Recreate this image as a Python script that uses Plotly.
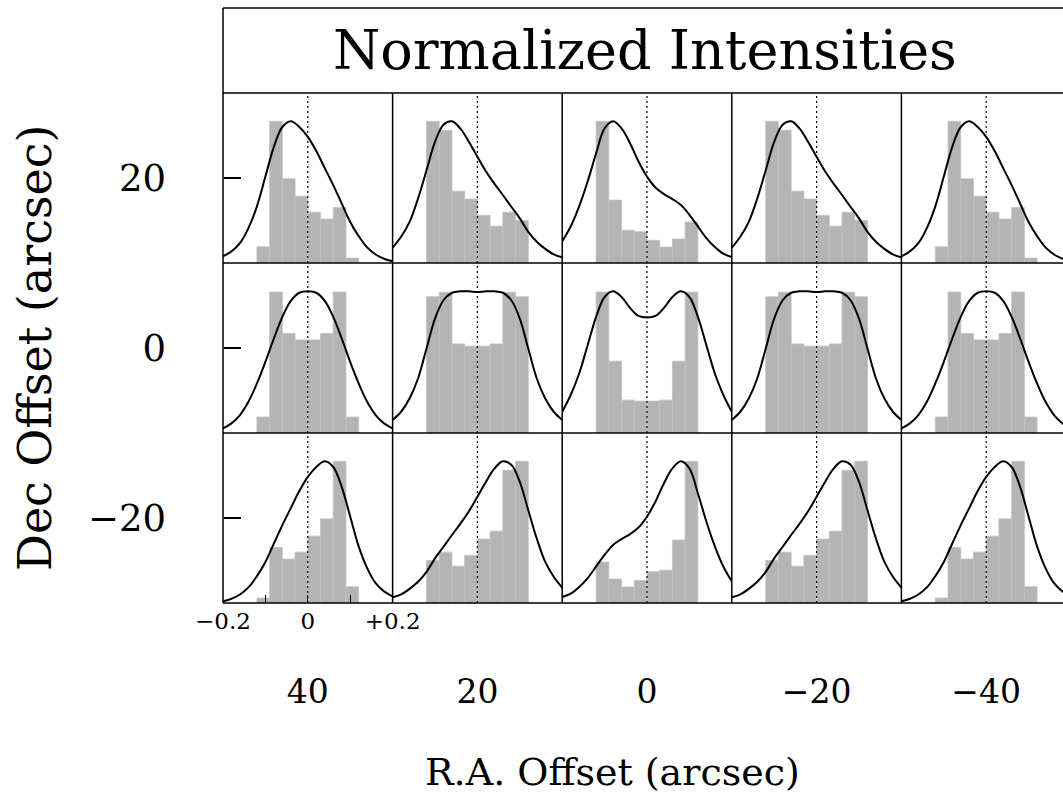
import plotly.graph_objects as go

# ---------------- data ----------------
BIN_CENTERS = [-0.105, -0.075, -0.045, -0.015, 0.015, 0.045, 0.075, 0.105]
BIN_WIDTH = 0.03
CURVE_X = [-0.20, -0.18, -0.16, -0.14, -0.12, -0.10, -0.08, -0.06, -0.04, -0.02, 0.00,
           0.02, 0.04, 0.06, 0.08, 0.10, 0.12, 0.14, 0.16, 0.18, 0.20]

RA_TICKS = [40, 20, 0, -20, -40]
DEC_TICKS = [20, 0, -20]
SMALL_TICKS = [-0.2, -0.1, 0.0, 0.1, 0.2]
SMALL_TICK_TEXT = ["\u22120.2", "", "0", "", "+0.2"]

# histograms (row 1 = Dec +20, row 2 = Dec 0, row 3 = Dec -20; columns RA 40 .. -40)
HIST_R1C1 = [0.115, 1.000, 0.594, 0.472, 0.359, 0.310, 0.392, 0.035]
HIST_R1C2 = [1.000, 0.937, 0.507, 0.451, 0.336, 0.260, 0.359, 0.300]
HIST_R1C3 = [1.000, 0.444, 0.232, 0.221, 0.160, 0.113, 0.169, 0.289]
HIST_R1C4 = [1.000, 0.937, 0.507, 0.451, 0.336, 0.260, 0.359, 0.300]
HIST_R1C5 = [0.115, 1.000, 0.594, 0.472, 0.359, 0.310, 0.392, 0.035]
HIST_R2C1 = [0.113, 0.995, 0.702, 0.657, 0.657, 0.702, 0.995, 0.113]
HIST_R2C2 = [0.962, 0.993, 0.629, 0.613, 0.613, 0.629, 0.993, 0.962]
HIST_R2C3 = [0.995, 0.507, 0.232, 0.225, 0.225, 0.232, 0.507, 0.995]
HIST_R2C4 = [0.962, 0.993, 0.629, 0.613, 0.613, 0.629, 0.993, 0.962]
HIST_R2C5 = [0.113, 0.995, 0.702, 0.657, 0.657, 0.702, 0.995, 0.113]
HIST_R3C1 = [0.035, 0.392, 0.310, 0.359, 0.472, 0.594, 1.000, 0.115]
HIST_R3C2 = [0.300, 0.359, 0.260, 0.336, 0.451, 0.507, 0.937, 1.000]
HIST_R3C3 = [0.289, 0.169, 0.113, 0.160, 0.221, 0.232, 0.444, 1.000]
HIST_R3C4 = [0.300, 0.359, 0.260, 0.336, 0.451, 0.507, 0.937, 1.000]
HIST_R3C5 = [0.035, 0.392, 0.310, 0.359, 0.472, 0.594, 1.000, 0.115]

# smooth profiles sampled at CURVE_X
CURVE_R1C1 = [0.047, 0.082, 0.140, 0.246, 0.400, 0.610, 0.820, 0.960, 1.000, 0.960, 0.890,
              0.790, 0.670, 0.550, 0.420, 0.290, 0.190, 0.110, 0.060, 0.030, 0.012]
CURVE_R1C2 = [0.108, 0.185, 0.290, 0.455, 0.655, 0.855, 0.976, 1.000, 0.948, 0.855, 0.750,
              0.648, 0.560, 0.480, 0.397, 0.315, 0.220, 0.150, 0.100, 0.061, 0.040]
CURVE_R1C3 = [0.153, 0.258, 0.400, 0.575, 0.775, 0.950, 1.000, 0.950, 0.845, 0.716, 0.610,
              0.533, 0.486, 0.451, 0.410, 0.340, 0.258, 0.176, 0.113, 0.066, 0.042]
CURVE_R1C4 = [0.108, 0.185, 0.290, 0.455, 0.655, 0.855, 0.976, 1.000, 0.948, 0.855, 0.750,
              0.648, 0.560, 0.480, 0.397, 0.315, 0.220, 0.150, 0.100, 0.061, 0.040]
CURVE_R1C5 = [0.047, 0.082, 0.140, 0.246, 0.400, 0.610, 0.820, 0.960, 1.000, 0.960, 0.890,
              0.790, 0.670, 0.550, 0.420, 0.290, 0.190, 0.110, 0.060, 0.030, 0.012]
CURVE_R2C1 = [0.033, 0.068, 0.127, 0.220, 0.350, 0.502, 0.667, 0.820, 0.932, 0.990, 1.000,
              0.990, 0.932, 0.820, 0.667, 0.502, 0.350, 0.220, 0.127, 0.068, 0.033]
CURVE_R2C2 = [0.092, 0.150, 0.244, 0.385, 0.596, 0.808, 0.937, 0.990, 1.000, 1.000, 0.995,
              1.000, 1.000, 0.990, 0.937, 0.808, 0.596, 0.385, 0.244, 0.150, 0.092]
CURVE_R2C3 = [0.150, 0.268, 0.420, 0.620, 0.820, 0.960, 1.000, 0.960, 0.883, 0.826, 0.815,
              0.826, 0.883, 0.960, 1.000, 0.960, 0.820, 0.620, 0.420, 0.268, 0.150]
CURVE_R2C4 = [0.092, 0.150, 0.244, 0.385, 0.596, 0.808, 0.937, 0.990, 1.000, 1.000, 0.995,
              1.000, 1.000, 0.990, 0.937, 0.808, 0.596, 0.385, 0.244, 0.150, 0.092]
CURVE_R2C5 = [0.033, 0.068, 0.127, 0.220, 0.350, 0.502, 0.667, 0.820, 0.932, 0.990, 1.000,
              0.990, 0.932, 0.820, 0.667, 0.502, 0.350, 0.220, 0.127, 0.068, 0.033]
CURVE_R3C1 = [0.012, 0.030, 0.060, 0.110, 0.190, 0.290, 0.420, 0.550, 0.670, 0.790, 0.890,
              0.960, 1.000, 0.960, 0.820, 0.610, 0.400, 0.246, 0.140, 0.082, 0.047]
CURVE_R3C2 = [0.040, 0.061, 0.100, 0.150, 0.220, 0.315, 0.397, 0.480, 0.560, 0.648, 0.750,
              0.855, 0.948, 1.000, 0.976, 0.855, 0.655, 0.455, 0.290, 0.185, 0.108]
CURVE_R3C3 = [0.042, 0.066, 0.113, 0.176, 0.258, 0.340, 0.410, 0.451, 0.486, 0.533, 0.610,
              0.716, 0.845, 0.950, 1.000, 0.950, 0.775, 0.575, 0.400, 0.258, 0.153]
CURVE_R3C4 = [0.040, 0.061, 0.100, 0.150, 0.220, 0.315, 0.397, 0.480, 0.560, 0.648, 0.750,
              0.855, 0.948, 1.000, 0.976, 0.855, 0.655, 0.455, 0.290, 0.185, 0.108]
CURVE_R3C5 = [0.012, 0.030, 0.060, 0.110, 0.190, 0.290, 0.420, 0.550, 0.670, 0.790, 0.890,
              0.960, 1.000, 0.960, 0.820, 0.610, 0.400, 0.246, 0.140, 0.082, 0.047]

HISTS = [[HIST_R1C1, HIST_R1C2, HIST_R1C3, HIST_R1C4, HIST_R1C5],
         [HIST_R2C1, HIST_R2C2, HIST_R2C3, HIST_R2C4, HIST_R2C5],
         [HIST_R3C1, HIST_R3C2, HIST_R3C3, HIST_R3C4, HIST_R3C5]]
CURVES = [[CURVE_R1C1, CURVE_R1C2, CURVE_R1C3, CURVE_R1C4, CURVE_R1C5],
          [CURVE_R2C1, CURVE_R2C2, CURVE_R2C3, CURVE_R2C4, CURVE_R2C5],
          [CURVE_R3C1, CURVE_R3C2, CURVE_R3C3, CURVE_R3C4, CURVE_R3C5]]

# ---------------- geometry / style ----------------
W, H = 1063, 801
GRID_LEFT = 223.0
PANEL_W = 169.6
GRID_TOP = 93.0
PANEL_H = 170.0
TITLE_TOP = 8.0
NROW, NCOL = 3, 5
PX_MIN, PX_MAX = -0.2, 0.2
PY_MAX = 1.2
FONT = "DejaVu Serif"
BAR_COLOR = "#b4b4b4"
BAR_EDGE = "#c2c2c2"
FRAME_W = 1.5


def px(xp):
    return xp / W


def py(yp):
    return 1 - yp / H


fig = go.Figure()
layout = dict(
    width=W, height=H, autosize=False,
    margin=dict(l=0, r=0, t=0, b=0, pad=0, autoexpand=False),
    paper_bgcolor="white", plot_bgcolor="rgba(0,0,0,0)",
    showlegend=False,
    font=dict(family=FONT, color="black"),
    barmode="overlay",
)

for r in range(NROW):
    for c in range(NCOL):
        k = r * NCOL + c + 1
        xname = "x" if k == 1 else f"x{k}"
        yname = "y" if k == 1 else f"y{k}"
        left = GRID_LEFT + c * PANEL_W
        right = left + PANEL_W
        vis_right = min(right, W)
        xmax = PX_MIN + (PX_MAX - PX_MIN) * (vis_right - left) / PANEL_W
        top = GRID_TOP + r * PANEL_H
        bot = top + PANEL_H
        xa = dict(domain=[px(left), px(vis_right)], range=[PX_MIN, xmax], anchor=yname,
                  showgrid=False, zeroline=False, showline=False, showticklabels=False,
                  ticks="", fixedrange=True, automargin=False)
        if r == NROW - 1 and c == 0:
            xa.update(tickvals=SMALL_TICKS, ticktext=SMALL_TICK_TEXT, showticklabels=True,
                      ticks="inside", ticklen=8, tickwidth=1.2, tickcolor="black",
                      tickfont=dict(family=FONT, size=23, color="black"),
                      ticklabelstandoff=2)
        ya = dict(domain=[py(bot), py(top)], range=[0, PY_MAX], anchor=xname,
                  showgrid=False, zeroline=False, showline=False, showticklabels=False,
                  ticks="", fixedrange=True, automargin=False)
        layout["xaxis" if k == 1 else f"xaxis{k}"] = xa
        layout["yaxis" if k == 1 else f"yaxis{k}"] = ya

        fig.add_trace(go.Bar(x=BIN_CENTERS, y=HISTS[r][c], width=[BIN_WIDTH] * len(BIN_CENTERS),
                             marker=dict(color=BAR_COLOR, line=dict(width=0.8, color=BAR_EDGE)),
                             xaxis=xname, yaxis=yname, hoverinfo="skip"))
        fig.add_trace(go.Scatter(x=[0, 0], y=[0, PY_MAX], mode="lines",
                                 line=dict(color="black", width=1.2, dash="2px,3px"),
                                 xaxis=xname, yaxis=yname, hoverinfo="skip"))
        fig.add_trace(go.Scatter(x=CURVE_X, y=CURVES[r][c], mode="lines",
                                 line=dict(color="black", width=2, shape="spline", smoothing=1.0),
                                 xaxis=xname, yaxis=yname, hoverinfo="skip"))

# global RA / Dec axes (free-positioned, own domains)
KG = NROW * NCOL + 1
ra_span = 20.0 * (W - GRID_LEFT) / PANEL_W
grid_bottom = GRID_TOP + NROW * PANEL_H
layout[f"xaxis{KG}"] = dict(domain=[px(GRID_LEFT), 1], range=[50, 50 - ra_span],
                            anchor="free", position=py(grid_bottom),
                            tickvals=RA_TICKS, ticks="", showline=False, tickangle=0,
                            showgrid=False, zeroline=False, automargin=False,
                            tickfont=dict(family=FONT, size=33, color="black"),
                            ticklabelstandoff=66, fixedrange=True)
layout[f"yaxis{KG}"] = dict(domain=[py(grid_bottom), py(GRID_TOP)],
                            range=[-30, 30], anchor="free", position=px(GRID_LEFT),
                            tickvals=DEC_TICKS, ticks="inside", ticklen=17,
                            tickwidth=1.5, tickcolor="black", showline=False,
                            showgrid=False, zeroline=False, automargin=False,
                            tickfont=dict(family=FONT, size=37, color="black"),
                            ticklabelstandoff=57, fixedrange=True)
fig.add_trace(go.Scatter(x=[0], y=[0], mode="markers", marker=dict(opacity=0),
                         xaxis=f"x{KG}", yaxis=f"y{KG}", hoverinfo="skip"))

# frames
shapes = []
line = dict(color="black", width=FRAME_W)
for c in range(NCOL):
    xl = GRID_LEFT + c * PANEL_W
    shapes.append(dict(type="line", xref="paper", yref="paper", x0=px(xl), x1=px(xl),
                       y0=py(GRID_TOP), y1=py(grid_bottom), line=line))
for r in range(NROW + 1):
    yl = GRID_TOP + r * PANEL_H
    shapes.append(dict(type="line", xref="paper", yref="paper", x0=px(GRID_LEFT), x1=1,
                       y0=py(yl), y1=py(yl), line=line))
shapes.append(dict(type="line", xref="paper", yref="paper", x0=px(GRID_LEFT), x1=px(GRID_LEFT),
                   y0=py(TITLE_TOP), y1=py(GRID_TOP), line=line))
shapes.append(dict(type="line", xref="paper", yref="paper", x0=px(GRID_LEFT), x1=1,
                   y0=py(TITLE_TOP), y1=py(TITLE_TOP), line=line))
layout["shapes"] = shapes

layout["annotations"] = [
    dict(text="Normalized Intensities", xref="paper", yref="paper", x=px(645), y=py(50),
         xanchor="center", yanchor="middle", showarrow=False,
         font=dict(family=FONT, size=54, color="black")),
    dict(text="R.A. Offset (arcsec)", xref="paper", yref="paper", x=px(612), y=py(772),
         xanchor="center", yanchor="middle", showarrow=False,
         font=dict(family=FONT, size=38, color="black")),
    dict(text="Dec Offset (arcsec)", xref="paper", yref="paper", x=px(35), y=py(348),
         xanchor="center", yanchor="middle", showarrow=False, textangle=-90,
         font=dict(family=FONT, size=46, color="black")),
]

fig.update_layout(**layout)
fig.write_html("out.html", config={"displayModeBar": False})

# remove the default page margin so the figure sits at the window origin
with open("out.html", "r", encoding="utf-8") as fh:
    html = fh.read()
html = html.replace("<head>", "<head><style>html,body{margin:0;padding:0;overflow:hidden;}</style>", 1)
with open("out.html", "w", encoding="utf-8") as fh:
    fh.write(html)
